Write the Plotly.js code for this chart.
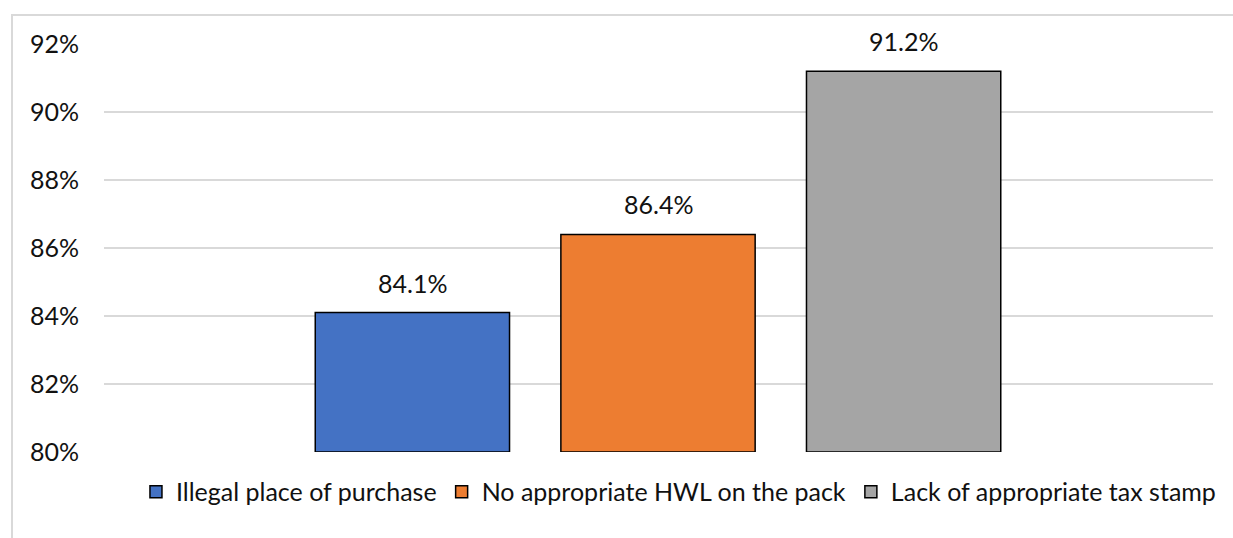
<!DOCTYPE html>
<html>
<head>
<meta charset="utf-8">
<script src="https://cdn.plot.ly/plotly-3.0.1.min.js"></script>
<style>
  html, body { margin: 0; padding: 0; overflow: hidden; background: #fff; }
  #wrap { position: relative; width: 1233px; height: 538px; }
  #chart { position: absolute; left: 0; top: 0; width: 1233px; height: 538px; }
  #frame { position: absolute; left: 11px; top: 14px; width: 1300px; height: 600px;
           border: 2px solid #d9d9d9; box-sizing: border-box; pointer-events: none; }
</style>
</head>
<body>
<div id="wrap">
  <div id="chart"></div>
  <div id="frame"></div>
</div>
<script>
// Data
const seriesNames = ["Illegal place of purchase", "No appropriate HWL on the pack", "Lack of appropriate tax stamp"];
const seriesValues = [84.1, 86.4, 91.2];
const seriesColors = ["#4472C4", "#ED7D31", "#A5A5A5"];
const yTickValues = [80, 82, 84, 86, 88, 90, 92];
const yTickLabels = ["80%", "82%", "84%", "86%", "88%", "90%", "92%"];
const axisBase = 80;

const FONT = "Lato, 'Open Sans', sans-serif";
const TEXT_COLOR = "#111111";

const traces = seriesNames.map((name, i) => ({
  type: "bar",
  name: name,
  x: [name],
  y: [seriesValues[i] - axisBase],
  base: axisBase,
  marker: { color: seriesColors[i], line: { color: "#000000", width: 1.5 } },
  hoverinfo: "skip"
}));

const annotations = seriesNames.map((name, i) => ({
  x: name,
  y: seriesValues[i],
  xref: "x",
  yref: "y",
  text: seriesValues[i].toFixed(1) + "%",
  showarrow: false,
  yanchor: "bottom",
  xanchor: "center",
  yshift: 13,
  font: { family: FONT, size: 25, color: TEXT_COLOR }
}));

const layout = {
  width: 1233,
  height: 538,
  margin: { l: 104, r: 16, t: 44, b: 86, pad: 0 },
  paper_bgcolor: "rgba(0,0,0,0)",
  plot_bgcolor: "#ffffff",
  barmode: "overlay",
  bargap: 0.209,
  showlegend: true,
  xaxis: {
    type: "category",
    categoryorder: "array",
    categoryarray: seriesNames,
    range: [-1.2556, 3.2596],
    showticklabels: false,
    showgrid: false,
    zeroline: false,
    showline: false,
    ticks: "",
    fixedrange: true
  },
  yaxis: {
    range: [80, 92],
    tickvals: yTickValues,
    ticktext: yTickLabels,
    showgrid: true,
    gridcolor: "#d9d9d9",
    gridwidth: 1.5,
    zeroline: false,
    showline: false,
    ticks: "",
    ticklabelstandoff: 24,
    tickfont: { family: FONT, size: 25, color: TEXT_COLOR },
    fixedrange: true
  },
  legend: {
    orientation: "h",
    x: 0.518,
    xanchor: "center",
    y: -0.098,
    yanchor: "middle",
    font: { family: FONT, size: 25, color: TEXT_COLOR },
    bgcolor: "rgba(0,0,0,0)",
    itemclick: false,
    itemdoubleclick: false,
    tracegroupgap: 0
  },
  annotations: annotations
};

Plotly.newPlot("chart", traces, layout, { displayModeBar: false, staticPlot: true });
</script>
</body>
</html>
